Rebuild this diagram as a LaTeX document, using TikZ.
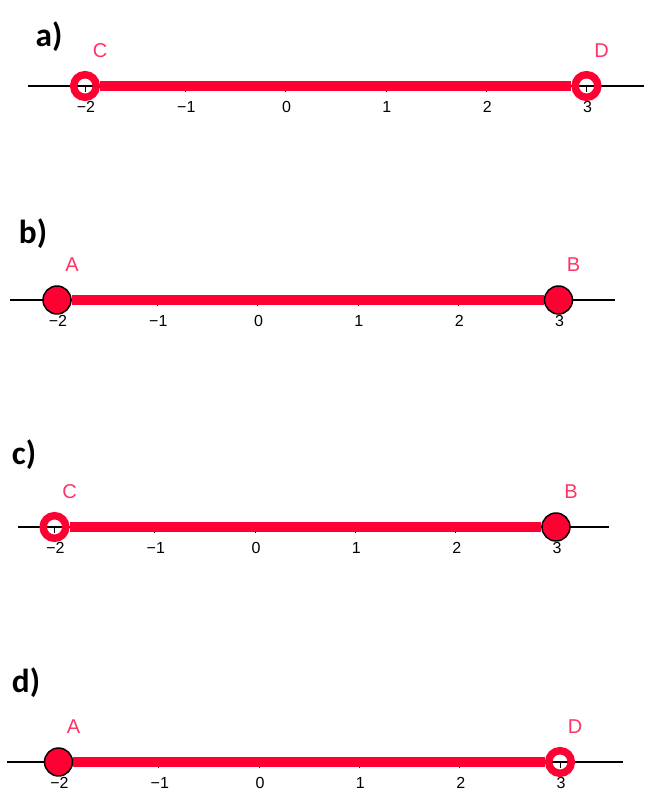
\documentclass[tikz,border=0pt]{standalone}
\usepackage{fontspec}
\setmainfont{Liberation Sans}
\newfontfamily\lblfont{Carlito}
\usetikzlibrary{backgrounds}
\definecolor{segred}{RGB}{255,0,51}
\definecolor{lblred}{RGB}{255,51,102}
\tikzset{
 openpt/.style={circle, draw=segred, line width=5.6pt, minimum size=17pt, inner sep=0pt},
 closedpt/.style={circle, draw=black, line width=1.1pt, fill=segred, minimum size=21pt, inner sep=0pt},
 seg/.style={draw=segred, line width=6.9pt},
 axisline/.style={draw=black, line width=0.9pt},
 tickmark/.style={draw=black, line width=0.6pt},
 ticklbl/.style={font=\fontsize{12}{14}\selectfont, inner sep=0pt},
 ptlbl/.style={text=lblred, font=\fontsize{15}{18}\selectfont, inner sep=0pt},
 partlbl/.style={font=\lblfont\bfseries\fontsize{25}{29}\selectfont, inner sep=0pt},
}
% #1 name, #2 y, #3 x of -2, #4 line start, #5 line end, #6 left style, #7 left label, #8 right style, #9 right label
\newcommand\mynumline[9]{%
  \coordinate (#1s) at (#4,#2);
  \coordinate (#1e) at (#5,#2);
  \node[#6] (#1L) at (#3,#2) {};
  \node[#8] (#1R) at ({#3+5*100.3},#2) {};
  \node[ptlbl] (#1Ll) at ({#3+15},{#2-35}) {#7};
  \node[ptlbl] (#1Rl) at ({#3+5*100.3+15},{#2-35}) {#9};
  \begin{scope}[on background layer]
    \draw[axisline] (#1s) -- (#1e);
    \foreach \k [count=\i from 0] in {−2,−1,0,1,2,3} {
      \draw[tickmark] ({#3+\i*100.3},#2) -- ({#3+\i*100.3},{#2+6});
      \node[ticklbl] (#1t\i) at ({#3+\i*100.3+1},{#2+21}) {\k};
    }
    \draw[seg] (#1L) -- (#1R);
  \end{scope}
}
\begin{document}
\begin{tikzpicture}[x=0.75pt,y=-0.75pt]
\useasboundingbox (0,0) rectangle (644,790);
\node[partlbl] (pa) at (49,37) {a)};
\mynumline{ra}{86}{85}{28}{644}{openpt}{C}{openpt}{D}
\node[partlbl] (pb) at (33,234) {b)};
\mynumline{rb}{300}{57}{10}{615}{closedpt}{A}{closedpt}{B}
\node[partlbl] (pc) at (24,455) {c)};
\mynumline{rc}{527}{54.5}{18}{609}{openpt}{C}{closedpt}{B}
\node[partlbl] (pd) at (26,683) {d)};
\mynumline{rd}{762}{58.5}{7}{623}{closedpt}{A}{openpt}{D}
\end{tikzpicture}
\end{document}
